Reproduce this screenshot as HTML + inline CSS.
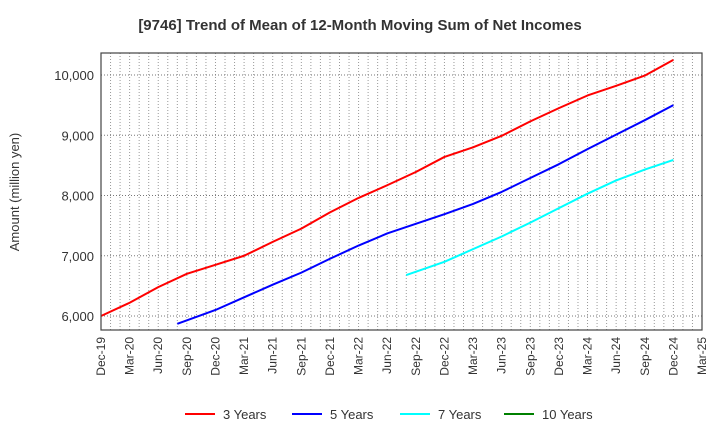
<!DOCTYPE html>
<html><head><meta charset="utf-8"><style>
body{margin:0;background:#fff;font-family:"Liberation Sans",sans-serif}
svg text{font-family:"Liberation Sans",sans-serif}
</style></head><body>
<svg id="c" width="720" height="440" xmlns="http://www.w3.org/2000/svg">
<text x="360" y="30" text-anchor="middle" font-size="15" font-weight="bold" fill="#333">[9746]  Trend of Mean of 12-Month Moving Sum of Net Incomes</text>
<text transform="translate(19,192) rotate(-90)" text-anchor="middle" font-size="13" fill="#333">Amount (million yen)</text>
<g id="grid"></g><g id="series"></g><g id="axes"></g>
<g id="legend"></g>
</svg>
<script>
const xLabels=["Dec-19","Mar-20","Jun-20","Sep-20","Dec-20","Mar-21","Jun-21","Sep-21","Dec-21","Mar-22","Jun-22","Sep-22","Dec-22","Mar-23","Jun-23","Sep-23","Dec-23","Mar-24","Jun-24","Sep-24","Dec-24","Mar-25"];
const yTicks=[6000,7000,8000,9000,10000];
const m3=[0,3,6,9,12,15,18,21,24,27,30,33,36,39,42,45,48,51,54,57,60];
const s3=[6000,6220,6480,6700,6850,7000,7230,7450,7720,7960,8170,8390,8640,8800,8990,9230,9450,9660,9820,9990,10250];
const m5=[8,12,15,18,21,24,27,30,33,36,39,42,45,48,51,54,57,60];
const s5=[5870,6100,6310,6520,6720,6950,7170,7370,7530,7690,7860,8060,8290,8520,8770,9010,9250,9500];
const m7=[32,36,39,42,45,48,51,54,57,60];
const s7=[6680,6900,7110,7320,7550,7790,8030,8250,8430,8590];
const m10=[];
const s10=[];
const names=["3 Years","5 Years","7 Years","10 Years"];
const colors=["#ff0000","#0000ff","#00ffff","#008000"];
const L=101,R=702,T=53,B=330,yMin=5768,yMax=10365,months=63;
const X=m=>L+(R-L)*m/months;
const Y=v=>B-(B-T)*(v-yMin)/(yMax-yMin);
const NS="http://www.w3.org/2000/svg";
function mk(tag,attrs,parent){const e=document.createElementNS(NS,tag);for(const k in attrs)e.setAttribute(k,attrs[k]);document.getElementById(parent).appendChild(e);return e;}
for(let m=1;m<months;m++){const g=mk("line",{x1:X(m),x2:X(m),y1:T,y2:B,stroke:"#999","stroke-dasharray":"1,2","stroke-width":1},"grid");

}
yTicks.forEach(v=>{const g=mk("line",{x1:L,x2:R,y1:Y(v),y2:Y(v),stroke:"#777","stroke-dasharray":"1,2"},"grid");


const t=mk("text",{x:L-7,y:Y(v)+5,"text-anchor":"end","font-size":"13",fill:"#333"},"axes");t.textContent=v.toLocaleString("en-US");

});
xLabels.forEach((l,i)=>{const x=X(i*3);const t=mk("text",{transform:`translate(${x+4},${B+7}) rotate(-90)`,"text-anchor":"end","font-size":"12",fill:"#333"},"axes");t.textContent=l;

});
const fr=mk("rect",{x:L,y:T,width:R-L,height:B-T,fill:"none",stroke:"#444","stroke-width":1.2},"axes");


[[m3,s3],[m5,s5],[m7,s7],[m10,s10]].forEach(([ms,s],k)=>{const pts=s.map((v,i)=>X(ms[i])+","+Y(v));
if(pts.length){const p=mk("polyline",{points:pts.join(" "),fill:"none",stroke:colors[k],"stroke-width":2,"stroke-linejoin":"round"},"series");

}});
const lx=[185,292,400,504];
names.forEach((n,k)=>{const l=mk("line",{x1:lx[k],x2:lx[k]+30,y1:414,y2:414,stroke:colors[k],"stroke-width":2},"legend");


const t=mk("text",{x:lx[k]+38,y:419,"font-size":"13",fill:"#333"},"legend");t.textContent=n;

});
</script>
</body></html>
